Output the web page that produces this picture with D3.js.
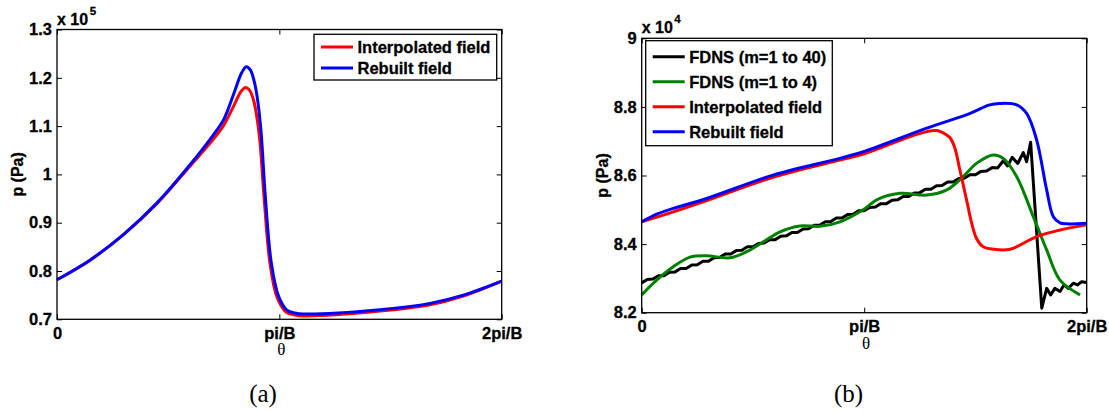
<!DOCTYPE html>
<html><head><meta charset="utf-8">
<script src="https://cdn.jsdelivr.net/npm/d3@7"></script>
<style>body{margin:0;background:#fff}svg{display:block;background:#fff}</style>
</head><body><svg id="c" width="1109" height="412"></svg>
<script>
// ---------- DATA ----------
const xTickValues = [0, 1, 2];
const xTickLabels = ["0", "pi/B", "2pi/B"];

const aYTicks = [0.7, 0.8, 0.9, 1.0, 1.1, 1.2, 1.3];
const aYTickLabels = ["0.7", "0.8", "0.9", "1", "1.1", "1.2", "1.3"];
const bYTicks = [8.2, 8.4, 8.6, 8.8, 9.0];
const bYTickLabels = ["8.2", "8.4", "8.6", "8.8", "9"];

// panel (a): [theta (units of pi/B), p (x 1e5 Pa)]
const aInterpolated = [[0,0.782],[0.15,0.823],[0.30,0.876],[0.45,0.940],[0.60,1.018],[0.70,1.071],[0.75,1.102],[0.795,1.142],[0.825,1.170],[0.847,1.180],[0.865,1.175],[0.885,1.152],[0.91,1.080],[0.93,0.960],[0.958,0.815],[0.99,0.745],[1.03,0.715],[1.07,0.709],[1.11,0.707],[1.453,0.717],[1.678,0.730],[1.827,0.748],[2.0,0.779]];
const aRebuilt = [[0,0.782],[0.15,0.823],[0.30,0.876],[0.45,0.941],[0.60,1.021],[0.70,1.080],[0.75,1.114],[0.795,1.167],[0.830,1.210],[0.851,1.223],[0.870,1.216],[0.885,1.196],[0.90,1.161],[0.917,1.092],[0.937,0.954],[0.964,0.816],[0.997,0.747],[1.034,0.719],[1.07,0.713],[1.11,0.711],[1.453,0.720],[1.678,0.733],[1.827,0.750],[2.0,0.779]];

// panel (b): [theta (units of pi/B), p (x 1e4 Pa)]
const bFdns40 = [[0,8.287],[0.025,8.297],[0.05,8.298],[0.075,8.308],[0.1,8.308],[0.125,8.318],[0.15,8.319],[0.175,8.329],[0.2,8.329],[0.225,8.339],[0.25,8.340],[0.275,8.350],[0.3,8.350],[0.325,8.360],[0.35,8.361],[0.375,8.371],[0.4,8.371],[0.425,8.381],[0.45,8.382],[0.475,8.392],[0.5,8.392],[0.525,8.402],[0.55,8.403],[0.575,8.413],[0.6,8.413],[0.625,8.423],[0.65,8.424],[0.675,8.434],[0.7,8.434],[0.725,8.444],[0.75,8.445],[0.775,8.455],[0.8,8.455],[0.825,8.465],[0.85,8.466],[0.875,8.476],[0.9,8.476],[0.925,8.486],[0.95,8.487],[0.975,8.497],[1.0,8.497],[1.025,8.507],[1.05,8.508],[1.075,8.518],[1.1,8.518],[1.125,8.528],[1.15,8.529],[1.175,8.539],[1.2,8.539],[1.225,8.549],[1.25,8.550],[1.275,8.560],[1.3,8.560],[1.325,8.570],[1.35,8.571],[1.375,8.581],[1.4,8.581],[1.425,8.591],[1.45,8.592],[1.475,8.602],[1.5,8.602],[1.525,8.612],[1.55,8.613],[1.575,8.623],[1.6,8.622],[1.625,8.643],[1.645,8.628],[1.665,8.653],[1.69,8.635],[1.715,8.667],[1.73,8.640],[1.748,8.697],[1.798,8.213],[1.82,8.271],[1.838,8.252],[1.857,8.271],[1.88,8.262],[1.898,8.281],[1.917,8.271],[1.94,8.286],[1.958,8.281],[1.977,8.290],[2.0,8.288]];
const bFdns4 = [[0,8.252],[0.067,8.295],[0.142,8.334],[0.217,8.362],[0.292,8.366],[0.397,8.360],[0.472,8.378],[0.547,8.407],[0.622,8.436],[0.711,8.453],[0.801,8.452],[0.891,8.465],[1.004,8.504],[1.056,8.529],[1.161,8.548],[1.281,8.543],[1.371,8.558],[1.445,8.597],[1.506,8.636],[1.58,8.660],[1.625,8.650],[1.685,8.597],[1.76,8.480],[1.82,8.383],[1.88,8.295],[1.97,8.252]];
const bInterpolated = [[0,8.465],[0.142,8.494],[0.292,8.527],[0.59,8.595],[0.89,8.645],[1.004,8.664],[1.2,8.712],[1.281,8.728],[1.326,8.731],[1.371,8.718],[1.386,8.710],[1.408,8.679],[1.43,8.616],[1.46,8.529],[1.483,8.461],[1.506,8.415],[1.535,8.392],[1.58,8.385],[1.655,8.385],[1.775,8.422],[1.88,8.441],[2.0,8.456]];
const bRebuilt = [[0,8.465],[0.07,8.488],[0.142,8.504],[0.292,8.533],[0.59,8.601],[0.89,8.650],[1.004,8.671],[1.281,8.738],[1.476,8.781],[1.56,8.805],[1.61,8.810],[1.685,8.806],[1.73,8.781],[1.775,8.704],[1.82,8.558],[1.85,8.480],[1.88,8.462],[1.91,8.459],[2.0,8.461]];

const aNames = ["Interpolated field", "Rebuilt field"];
const bNames = ["FDNS (m=1 to 40)", "FDNS (m=1 to 4)", "Interpolated field", "Rebuilt field"];

// ---------- DRAW ----------
const svg = d3.select("#c");
const SANS = "'Liberation Sans', Arial, Helvetica, sans-serif";
const SERIF = "'Liberation Serif', 'Times New Roman', serif";

function panel(cfg) {
  const x = d3.scaleLinear().domain([0, 2]).range([cfg.left, cfg.right]);
  const y = d3.scaleLinear().domain(cfg.yDomain).range([cfg.bottom, cfg.top]);
  const g = svg.append("g");

  const styleAxis = sel => {
    sel.attr("font-size", 16.5).attr("font-family", SANS).attr("font-weight", "bold");
    sel.select(".domain").remove();
    sel.selectAll(".tick line").attr("stroke", "#000");
    sel.selectAll(".tick text").attr("fill", "#000").attr("stroke", "#000").attr("stroke-width", 0.3);
  };

  g.append("g").attr("transform", `translate(0,${cfg.bottom})`)
    .call(d3.axisBottom(x).tickValues(xTickValues).tickSizeInner(-5).tickSizeOuter(0).tickPadding(8)
      .tickFormat((d, i) => xTickLabels[i])).call(styleAxis);
  g.append("g").attr("transform", `translate(0,${cfg.top})`)
    .call(d3.axisTop(x).tickValues(xTickValues).tickSizeInner(-5).tickSizeOuter(0).tickFormat("")).call(styleAxis);
  g.append("g").attr("transform", `translate(${cfg.left},0)`)
    .call(d3.axisLeft(y).tickValues(cfg.yTicks).tickSizeInner(-5).tickSizeOuter(0).tickPadding(5)
      .tickFormat((d, i) => cfg.yLabels[i])).call(styleAxis);
  g.append("g").attr("transform", `translate(${cfg.right},0)`)
    .call(d3.axisRight(y).tickValues(cfg.yTicks).tickSizeInner(-5).tickSizeOuter(0).tickFormat("")).call(styleAxis);

  // series
  cfg.series.forEach(s => {
    const line = d3.line().x(d => x(d[0])).y(d => y(d[1]))
      .curve(s.smooth ? d3.curveCatmullRom.alpha(0.5) : d3.curveLinear);
    g.append("path").datum(s.data).attr("d", line)
      .attr("fill", "none").attr("stroke", s.color).attr("stroke-width", 3)
      .attr("stroke-linejoin", "round").attr("stroke-linecap", "butt");
  });

  // box
  g.append("rect").attr("x", cfg.left).attr("y", cfg.top)
    .attr("width", cfg.right - cfg.left).attr("height", cfg.bottom - cfg.top)
    .attr("fill", "none").attr("stroke", "#000").attr("stroke-width", 1.3);

  // exponent
  const ex = g.append("text").attr("x", cfg.left).attr("y", cfg.top - 5)
    .attr("font-family", SANS).attr("font-weight", "bold").attr("font-size", 16).attr("fill", "#000")
    .attr("stroke", "#000").attr("stroke-width", 0.3);
  ex.append("tspan").text("x 10");
  ex.append("tspan").attr("font-size", 11.5).attr("dy", -10).attr("dx", 1.5).text(cfg.exponent);

  // y label
  g.append("text")
    .attr("transform", `translate(${cfg.yLabelX},${(cfg.top + cfg.bottom) / 2}) rotate(-90)`)
    .attr("text-anchor", "middle").attr("font-family", SANS).attr("font-weight", "bold")
    .attr("font-size", 16).attr("fill", "#000").attr("stroke", "#000").attr("stroke-width", 0.3).text("p (Pa)");

  // x label theta
  g.append("text").attr("x", x(1) + 2).attr("y", cfg.bottom + 36)
    .attr("text-anchor", "middle").attr("font-family", SERIF).attr("font-size", 17)
    .attr("fill", "#000").text("θ");

  // caption
  g.append("text").attr("x", cfg.captionX).attr("y", 401.5)
    .attr("text-anchor", "middle").attr("font-family", SERIF).attr("font-size", 25)
    .attr("fill", "#000").text(cfg.caption);

  // legend
  const L = cfg.legend;
  const lg = g.append("g");
  lg.append("rect").attr("x", L.x).attr("y", L.y).attr("width", L.w).attr("height", L.h)
    .attr("fill", "#fff").attr("stroke", "#000").attr("stroke-width", 1.3);
  L.items.forEach((it, i) => {
    const yy = L.y + L.first + i * L.step;
    lg.append("line").attr("x1", L.x + 7).attr("x2", L.x + 39).attr("y1", yy).attr("y2", yy)
      .attr("stroke", it.color).attr("stroke-width", 3);
    lg.append("text").attr("x", L.x + 43.5).attr("y", yy).attr("dy", "0.36em")
      .attr("font-family", SANS).attr("font-weight", "bold").attr("font-size", 16.5)
      .attr("fill", "#000").attr("stroke", "#000").attr("stroke-width", 0.3).text(it.name);
  });
}

panel({
  left: 57, right: 501.7, top: 29.5, bottom: 319.3,
  yDomain: [0.7, 1.3], yTicks: aYTicks, yLabels: aYTickLabels,
  exponent: "5", yLabelX: 22.5, caption: "(a)", captionX: 263,
  series: [
    {data: aInterpolated, color: "#ff0000", smooth: true},
    {data: aRebuilt, color: "#0000ff", smooth: true}
  ],
  legend: {x: 314, y: 34.3, w: 182.7, h: 45.7, first: 12.7, step: 21,
    items: [{name: aNames[0], color: "#ff0000"}, {name: aNames[1], color: "#0000ff"}]}
});

panel({
  left: 641.7, right: 1086.7, top: 38.3, bottom: 312.7,
  yDomain: [8.2, 9.0], yTicks: bYTicks, yLabels: bYTickLabels,
  exponent: "4", yLabelX: 607.5, caption: "(b)", captionX: 848.5,
  series: [
    {data: bFdns40, color: "#000000", smooth: false},
    {data: bFdns4, color: "#008000", smooth: true},
    {data: bInterpolated, color: "#ff0000", smooth: true},
    {data: bRebuilt, color: "#0000ff", smooth: true}
  ],
  legend: {x: 645.7, y: 40.7, w: 186.6, h: 105, first: 16, step: 25,
    items: [{name: bNames[0], color: "#000000"}, {name: bNames[1], color: "#008000"},
            {name: bNames[2], color: "#ff0000"}, {name: bNames[3], color: "#0000ff"}]}
});
</script></body></html>
